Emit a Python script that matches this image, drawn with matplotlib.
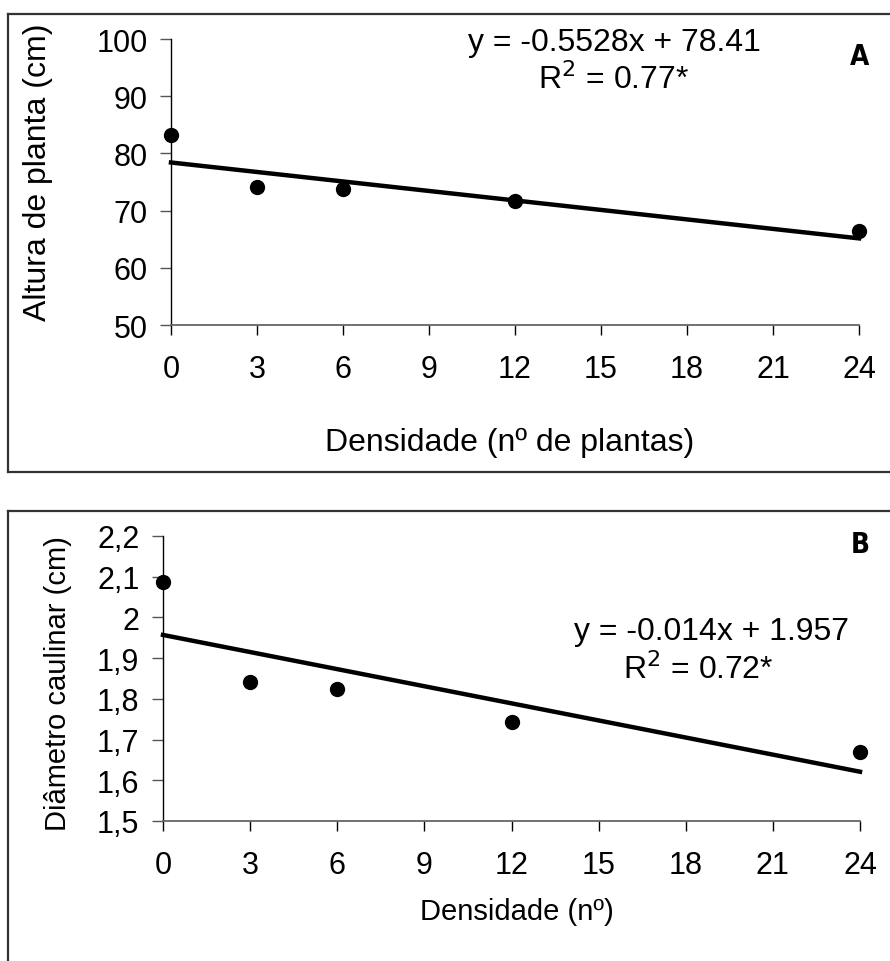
import matplotlib
matplotlib.use("Agg")
import matplotlib.pyplot as plt
from matplotlib.lines import Line2D
import numpy as np

plt.rcParams['font.family'] = ['Liberation Sans', 'DejaVu Sans']

# data
densidade = [0, 3, 6, 12, 24]
altura = [83.2, 74.1, 73.7, 71.7, 66.5]
diametro = [2.087, 1.842, 1.824, 1.744, 1.669]
xticks = [0, 3, 6, 9, 12, 15, 18, 21, 24]
yticks_a = [50, 60, 70, 80, 90, 100]
yticks_b = [1.5, 1.6, 1.7, 1.8, 1.9, 2.0, 2.1, 2.2]
ytick_labels_b = ["1,5", "1,6", "1,7", "1,8", "1,9", "2", "2,1", "2,2"]
coef_a = (-0.5528, 78.41)
coef_b = (-0.014, 1.957)

W, H = 890, 962
fig = plt.figure(figsize=(W / 100, H / 100), dpi=100)

def fx(px):
    return px / W

def fy(py):
    return 1 - py / H

fs = 23
fst = 22

def style(ax):
    ax.spines['top'].set_visible(False)
    ax.spines['right'].set_visible(False)
    ax.spines['left'].set_color('black')
    ax.spines['bottom'].set_color('#666666')
    ax.spines['left'].set_linewidth(1.0)
    ax.spines['bottom'].set_linewidth(1.3)
    ax.tick_params(axis='y', direction='out', length=8, width=1.0, color='#555555', labelsize=fst, pad=9)
    ax.tick_params(axis='x', direction='out', length=7, width=1.0, color='black', labelsize=fst, pad=14)
    ax.set_xlim(0, 24)
    ax.set_xticks(xticks)

# panel A
axA = fig.add_axes([fx(171), fy(326), fx(859 - 171), (326 - 40) / H])
style(axA)
axA.set_ylim(50, 100)
axA.set_yticks(yticks_a)
xl = np.array([0, 24])
axA.plot(xl, coef_a[0] * xl + coef_a[1], color='black', lw=3.2, clip_on=False)
axA.plot(densidade, altura, 'o', color='black', ms=10, clip_on=False, zorder=5)
fig.text(fx(38), fy(172), "Altura de planta (cm)", fontsize=fs, rotation=90, ha='center', va='center')
fig.text(fx(510), fy(443), "Densidade (nº de plantas)", fontsize=fs, ha='center', va='center')
fig.text(fx(614), fy(43), "y = -0.5528x + 78.41", fontsize=fs, ha='center', va='center')
fig.text(fx(614), fy(80), "R$^2$ = 0.77*", fontsize=fs, ha='center', va='center')
fig.text(fx(860), fy(57), "A", fontsize=20, fontweight='bold', family='DejaVu Sans',
         fontstretch='condensed', ha='center', va='center')

# panel B
axB = fig.add_axes([fx(163), fy(822), fx(860 - 163), (822 - 537) / H])
style(axB)
axB.set_ylim(1.5, 2.2)
axB.set_yticks(yticks_b)
axB.set_yticklabels(ytick_labels_b)
axB.plot(xl, coef_b[0] * xl + coef_b[1], color='black', lw=3.2, clip_on=False)
axB.plot(densidade, diametro, 'o', color='black', ms=10, clip_on=False, zorder=5)
fig.text(fx(58), fy(684), "Diâmetro caulinar (cm)", fontsize=21, rotation=90, ha='center', va='center')
fig.text(fx(517), fy(912), "Densidade (nº)", fontsize=21, ha='center', va='center')
fig.text(fx(712), fy(632), "y = -0.014x + 1.957", fontsize=fs, ha='center', va='center')
fig.text(fx(698), fy(670), "R$^2$ = 0.72*", fontsize=fs, ha='center', va='center')
fig.text(fx(860), fy(545), "B", fontsize=20, fontweight='bold', family='DejaVu Sans',
         fontstretch='condensed', ha='center', va='center')

# outer frames
c = '#333333'
fig.add_artist(Line2D([fx(8), fx(8)], [fy(15), fy(473)], color=c, lw=1.6))
fig.add_artist(Line2D([fx(8), 1], [fy(15), fy(15)], color=c, lw=1.6))
fig.add_artist(Line2D([fx(8), 1], [fy(473), fy(473)], color=c, lw=1.6))
fig.add_artist(Line2D([fx(8), fx(8)], [fy(512), 0], color=c, lw=1.6))
fig.add_artist(Line2D([fx(8), 1], [fy(512), fy(512)], color=c, lw=1.6))

fig.savefig("out.png", dpi=100)
